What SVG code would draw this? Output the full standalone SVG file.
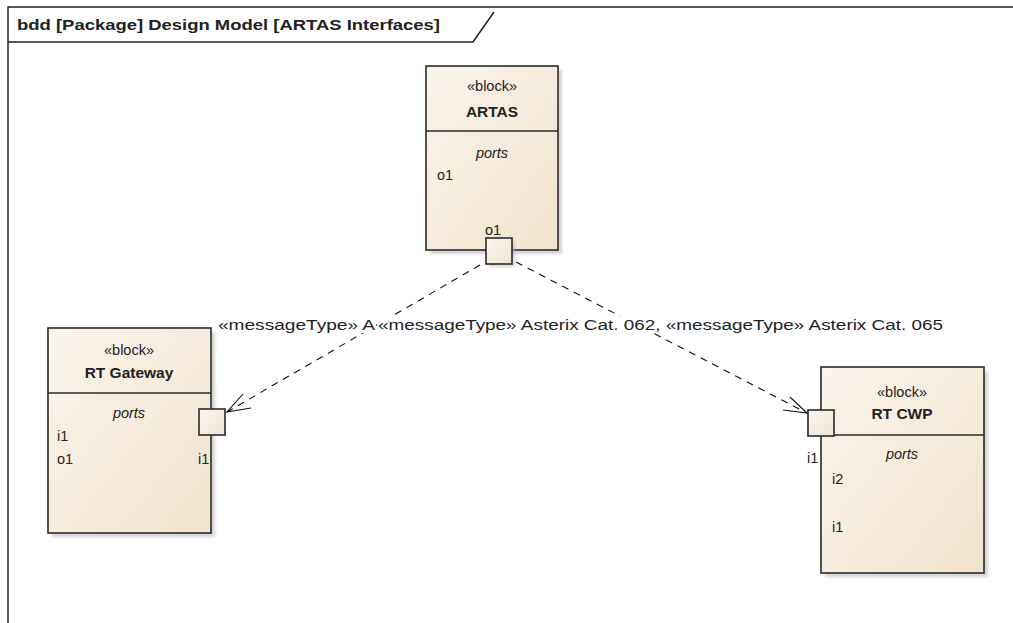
<svg xmlns="http://www.w3.org/2000/svg" width="1013" height="623" viewBox="0 0 1013 623">
<style>
.frame{fill:none;stroke:#222;stroke-width:1.5}
.box{fill:url(#bg);stroke:#2a2a2a;stroke-width:1.6}
.shadow{fill:#b8b8b8;opacity:0.6;filter:url(#blur)}
.div{stroke:#2a2a2a;stroke-width:1.4}
.port{fill:url(#pg);stroke:#2a2a2a;stroke-width:1.6}
.t{font-family:"Liberation Sans",Arial,sans-serif;font-size:14.5px;fill:#222}
.b{font-weight:bold;font-size:15.5px}
.i{font-style:italic}
.mid{text-anchor:middle}
.title{font-family:"Liberation Sans",Arial,sans-serif;font-size:15.5px;font-weight:bold;fill:#222}
.lbl{font-family:"Liberation Sans",Arial,sans-serif;font-size:14px;fill:#222}
.conn{fill:none;stroke:#111;stroke-width:1.1;stroke-dasharray:7,6}
.head{fill:none;stroke:#111;stroke-width:1.1}
</style>
<defs>
<linearGradient id="bg" x1="0" y1="0" x2="1" y2="1">
<stop offset="0" stop-color="#fbf5ec"/>
<stop offset="1" stop-color="#f1e2cd"/>
</linearGradient>
<linearGradient id="pg" x1="0" y1="0" x2="1" y2="1">
<stop offset="0" stop-color="#fbf6ee"/>
<stop offset="1" stop-color="#efe3d2"/>
</linearGradient>
<filter id="blur" x="-10%" y="-10%" width="120%" height="120%"><feGaussianBlur stdDeviation="1.5"/></filter>
</defs>
<rect width="1013" height="623" fill="#fff"/>
<g id="frame">
<path class="frame" d="M8,623 V7 H1013"/>
<path class="frame" d="M8,42 H473 L494,12"/>
<text class="title" x="17" y="30" textLength="423" lengthAdjust="spacingAndGlyphs">bdd [Package] Design Model [ARTAS Interfaces]</text>
</g>
<g id="connectors">
<path class="conn" d="M480,265 L227,412"/>
<path class="head" d="M243,394 L227,412 L251,408"/>
<path class="conn" d="M516,262 L807,413"/>
<path class="head" d="M790,397 L807,413 L783,410"/>
<rect x="216" y="316" width="160" height="17" fill="#fff"/>
<text class="lbl" x="218" y="330" textLength="157" lengthAdjust="spacingAndGlyphs">«messageType» A</text>
<rect x="377" y="316" width="568" height="17" fill="#fff"/>
<text class="lbl" x="378" y="330" textLength="565" lengthAdjust="spacingAndGlyphs">«messageType» Asterix Cat. 062, «messageType» Asterix Cat. 065</text>
</g>
<g id="ARTAS">
<rect class="shadow" x="430" y="70" width="132" height="184"/>
<rect class="box" x="426" y="66" width="132" height="184"/>
<line class="div" x1="426" y1="131" x2="558" y2="131"/>
<text class="t mid" x="492" y="91">«block»</text>
<text class="t b mid" x="492" y="117">ARTAS</text>
<text class="t i mid" x="492" y="158">ports</text>
<text class="t" x="437" y="180">o1</text>
<text class="t" x="485" y="235">o1</text>
<rect class="shadow" x="489" y="241" width="26" height="26"/>
<rect class="port" x="486" y="238" width="26" height="26"/>
</g>
<g id="RTGateway">
<rect class="shadow" x="52" y="332" width="163" height="205"/>
<rect class="box" x="48" y="328" width="163" height="205"/>
<line class="div" x1="48" y1="393" x2="211" y2="393"/>
<text class="t mid" x="129" y="355">«block»</text>
<text class="t b mid" x="129" y="378">RT Gateway</text>
<text class="t i mid" x="129" y="418">ports</text>
<text class="t" x="57" y="441">i1</text>
<text class="t" x="57" y="464">o1</text>
<text class="t" x="198" y="464">i1</text>
<rect class="port" x="199" y="409" width="26" height="26"/>
</g>
<g id="RTCWP">
<rect class="shadow" x="825" y="371" width="163" height="206"/>
<rect class="box" x="821" y="367" width="163" height="206"/>
<line class="div" x1="821" y1="435" x2="984" y2="435"/>
<text class="t mid" x="902" y="397">«block»</text>
<text class="t b mid" x="902" y="419">RT CWP</text>
<text class="t i mid" x="902" y="459">ports</text>
<text class="t" x="832" y="484">i2</text>
<text class="t" x="832" y="532">i1</text>
<text class="t" x="807" y="463">i1</text>
<rect class="port" x="808" y="410" width="26" height="26"/>
</g>
</svg>
